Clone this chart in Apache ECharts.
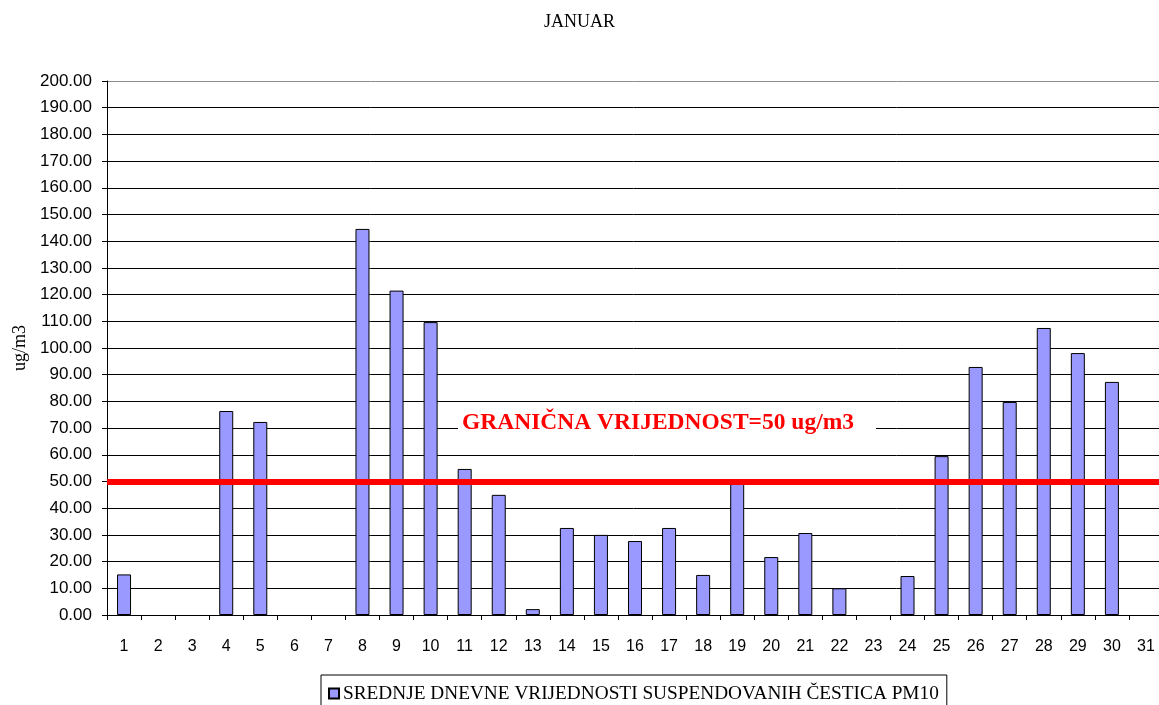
<!DOCTYPE html>
<html>
<head>
<meta charset="utf-8">
<title>JANUAR</title>
<script src="https://cdn.jsdelivr.net/npm/echarts@6/dist/echarts.min.js"></script>
<style>
  html, body { margin: 0; padding: 0; background: #fff; }
  #chart { width: 1159px; height: 705px; }
</style>
</head>
<body>
<div id="chart"></div>
<script>
// days of the month
const days = ["1", "2", "3", "4", "5", "6", "7", "8", "9", "10", "11", "12", "13", "14", "15", "16",
  "17", "18", "19", "20", "21", "22", "23", "24", "25", "26", "27", "28", "29", "30", "31"];

// daily PM10 averages (ug/m3), null = no measurement
const pm10 = [15.2, null, null, 76.4, 72.3, null, null, 144.6, 121.5, 109.7, 54.7, 45.0, 2.2,
  32.6, 30.0, 27.7, 32.6, 15.0, 49.4, 21.7, 30.7, 10.0, null, 14.6, 59.5, 92.9, 79.8, 107.5,
  98.1, 87.3, null];

const limitValue = 50;

// grid line colours, top one (200) is grey
const gridColors = Array(20).fill("#000").concat(["#8c8c8c"]);

const chart = echarts.init(document.getElementById("chart"));

const option = {
  animation: false,
  title: {
    text: "JANUAR",
    left: "center",
    top: 8,
    textStyle: {
      fontFamily: "Liberation Serif",
      fontWeight: "normal",
      fontSize: 18,
      color: "#000",
    },
  },
  legend: {
    bottom: -14,
    left: 321,
    padding: [9, 8, 16, 7],
    borderColor: "#000",
    borderWidth: 1,
    icon: "rect",
    itemWidth: 10,
    itemHeight: 10,
    textStyle: {
      fontFamily: "Liberation Serif",
      fontSize: 19.3,
      color: "#000",
      padding: [0, 0, 0, -1],
    },
    data: ["SREDNJE DNEVNE VRIJEDNOSTI SUSPENDOVANIH ČESTICA PM10"],
  },
  grid: {
    left: 107,
    top: 81,
    width: 1056,
    height: 534,
    outerBoundsMode: "none",
  },
  xAxis: {
    type: "category",
    data: days,
    axisLine: { lineStyle: { color: "#000", width: 1 } },
    axisTick: { show: true, length: 5, lineStyle: { color: "#000" } },
    axisLabel: {
      margin: 24,
      fontFamily: "Liberation Sans",
      fontSize: 16,
      color: "#000",
    },
  },
  yAxis: {
    type: "value",
    min: 0,
    max: 200,
    interval: 10,
    name: "ug/m3",
    nameLocation: "middle",
    nameGap: 78,
    nameTextStyle: {
      fontFamily: "Liberation Serif",
      fontSize: 18,
      color: "#000",
    },
    axisLine: { show: true, lineStyle: { color: "#000", width: 1 } },
    axisTick: { show: true, length: 5, lineStyle: { color: "#000" } },
    axisLabel: {
      margin: 15,
      fontFamily: "Liberation Sans",
      fontSize: 17,
      color: "#000",
      formatter: (v) => v.toFixed(2),
    },
    splitLine: { lineStyle: { color: gridColors, width: 1 } },
  },
  series: [
    {
      name: "SREDNJE DNEVNE VRIJEDNOSTI SUSPENDOVANIH ČESTICA PM10",
      type: "bar",
      data: pm10,
      barWidth: 14,
      itemStyle: {
        color: "#9999ff",
        borderColor: "#000",
        borderWidth: 1,
      },
      markLine: {
        silent: true,
        symbol: "none",
        z: 10,
        lineStyle: { color: "#ff0000", width: 6, type: "solid" },
        label: {
          position: "insideMiddleTop",
          distance: 43,
          offset: [32, 0],
          formatter: "GRANIČNA VRIJEDNOST=50 ug/m3",
          fontFamily: "Liberation Serif",
          fontWeight: "bold",
          fontSize: 23.5,
          color: "#ff0000",
          backgroundColor: "#fff",
          padding: [4, 22, 4, 4],
        },
        data: [{ yAxis: limitValue }],
      },
    },
  ],
};

chart.setOption(option);
</script>
</body>
</html>
